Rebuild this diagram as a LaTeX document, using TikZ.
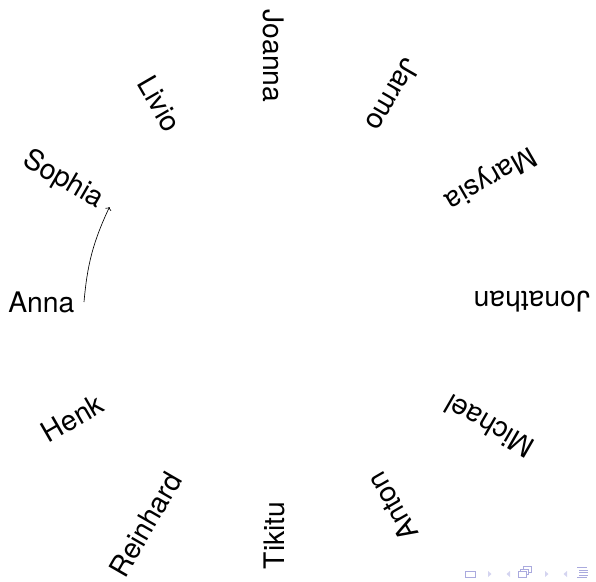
\documentclass[tikz,border=0pt]{standalone}
\usepackage{fontspec}
\setmainfont{TeX Gyre Heros}
\usetikzlibrary{calc,arrows.meta}
\definecolor{navfg}{RGB}{170,170,222}
\definecolor{navlight}{RGB}{212,212,240}
\begin{document}
\begin{tikzpicture}[x=1pt,y=1pt,
  person/.style={font=\fontsize{28.3}{34}\selectfont, inner sep=9.4pt, anchor=east},
  link/.style={-{To[length=3pt,width=6.5pt]}, line width=0.65pt},
  navicon/.style={draw=navfg, line width=0.9pt},
  navtri/.style={fill=navlight}]
\useasboundingbox (0,0) rectangle (596,-581);
\coordinate (C) at (274,-302);
\foreach \n/\a in {Anna/180, Sophia/150, Livio/120, Joanna/90, Jarmo/60, Marysia/30,
                   Jonathan/0, Michael/-30, Anton/-60, Tikitu/-90, Reinhard/-120, Henk/-150}
  \node[person, rotate=\a-180] (\n) at ($(C)+(\a:190)$) {\n};
\draw[link] (Anna.east) to[bend left=10] (Sophia.east);
% navigation symbols
\draw[navicon] (465.5,-571) rectangle (475,-577);
\fill[navtri] (488,-571) -- (491.5,-574) -- (488,-577) -- cycle;
\fill[navtri] (510,-571) -- (506.5,-574) -- (510,-577) -- cycle;
\draw[navicon, fill=white] (523,-566.5) rectangle (531,-572);
\draw[navicon, fill=white] (520.5,-569) rectangle (528.5,-574.5);
\draw[navicon, fill=white] (518,-571.5) rectangle (526,-577);
\fill[navtri] (545,-571) -- (548.5,-574) -- (545,-577) -- cycle;
\fill[navtri] (567,-571) -- (563.5,-574) -- (567,-577) -- cycle;
\draw[navicon, line width=0.8pt] (577,-567.5) -- (587,-567.5);
\draw[navicon, line width=0.8pt] (579,-570) -- (588,-570);
\draw[navicon, line width=0.8pt] (579,-572.5) -- (588,-572.5);
\draw[navicon, line width=0.8pt] (579,-575) -- (588,-575);
\draw[navicon, line width=0.8pt] (577,-577.5) -- (587,-577.5);
\end{tikzpicture}
\end{document}
